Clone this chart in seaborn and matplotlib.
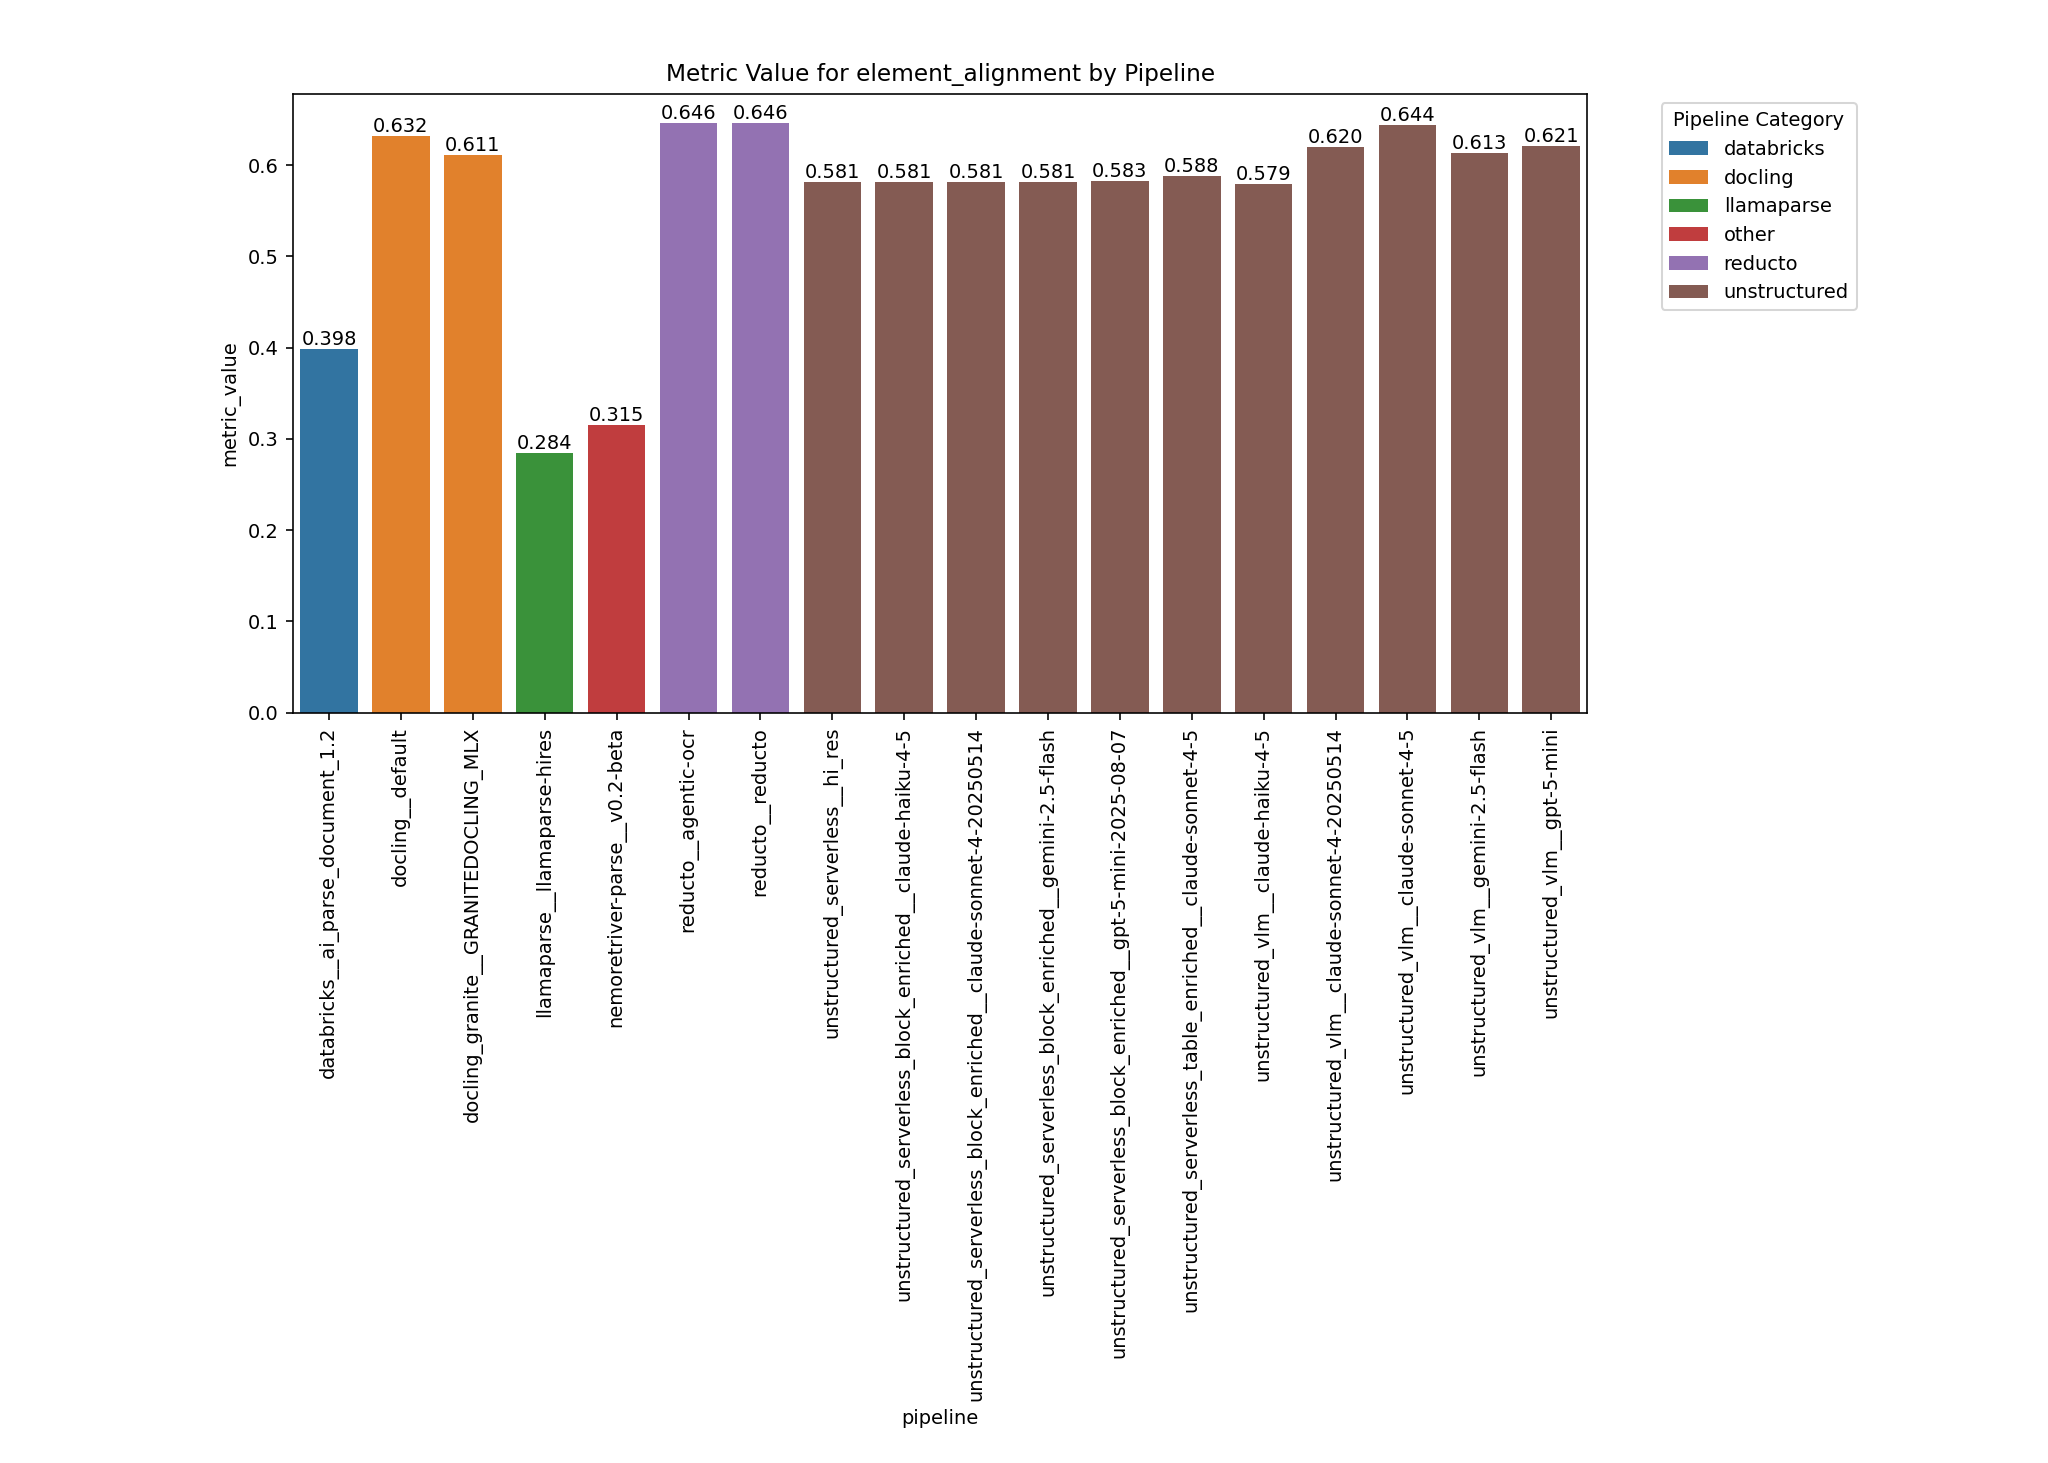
import pandas as pd
import matplotlib.pyplot as plt
import seaborn as sns

# -------------------------------
# Data
# -------------------------------
pipelines = [
    "databricks__ai_parse_document_1.2",
    "docling__default",
    "docling_granite__GRANITEDOCLING_MLX",
    "llamaparse__llamaparse-hires",
    "nemoretriver-parse__v0.2-beta",
    "reducto__agentic-ocr",
    "reducto__reducto",
    "unstructured_serverless__hi_res",
    "unstructured_serverless_block_enriched__claude-haiku-4-5",
    "unstructured_serverless_block_enriched__claude-sonnet-4-20250514",
    "unstructured_serverless_block_enriched__gemini-2.5-flash",
    "unstructured_serverless_block_enriched__gpt-5-mini-2025-08-07",
    "unstructured_serverless_table_enriched__claude-sonnet-4-5",
    "unstructured_vlm__claude-haiku-4-5",
    "unstructured_vlm__claude-sonnet-4-20250514",
    "unstructured_vlm__claude-sonnet-4-5",
    "unstructured_vlm__gemini-2.5-flash",
    "unstructured_vlm__gpt-5-mini",
]

categories = [
    "databricks", "docling", "docling", "llamaparse", "other",
    "reducto", "reducto",
    "unstructured", "unstructured", "unstructured", "unstructured",
    "unstructured", "unstructured", "unstructured", "unstructured",
    "unstructured", "unstructured", "unstructured",
]

metric_values = [
    0.398, 0.632, 0.611, 0.284, 0.315, 0.646, 0.646,
    0.581, 0.581, 0.581, 0.581, 0.583, 0.588, 0.579,
    0.620, 0.644, 0.613, 0.621,
]

df = pd.DataFrame({
    "pipeline": pipelines,
    "category": categories,
    "metric_value": metric_values,
})

# -------------------------------
# Plot
# -------------------------------
plt.rcParams["font.size"] = 9.55

fig = plt.figure(figsize=(14, 10), dpi=146.3)
ax = fig.add_axes([0.1431, 0.5129, 0.6318, 0.4231])

sns.barplot(
    data=df,
    x="pipeline",
    y="metric_value",
    hue="category",
    dodge=False,
    palette="tab10",
    ax=ax,
)

for container in ax.containers:
    ax.bar_label(container, fmt="%.3f")

ax.set_title("Metric Value for element_alignment by Pipeline")
plt.setp(ax.get_xticklabels(), rotation=90)

ax.legend(
    title="Pipeline Category",
    bbox_to_anchor=(1.05, 1),
    loc="upper left",
)

fig.savefig("out.png")
